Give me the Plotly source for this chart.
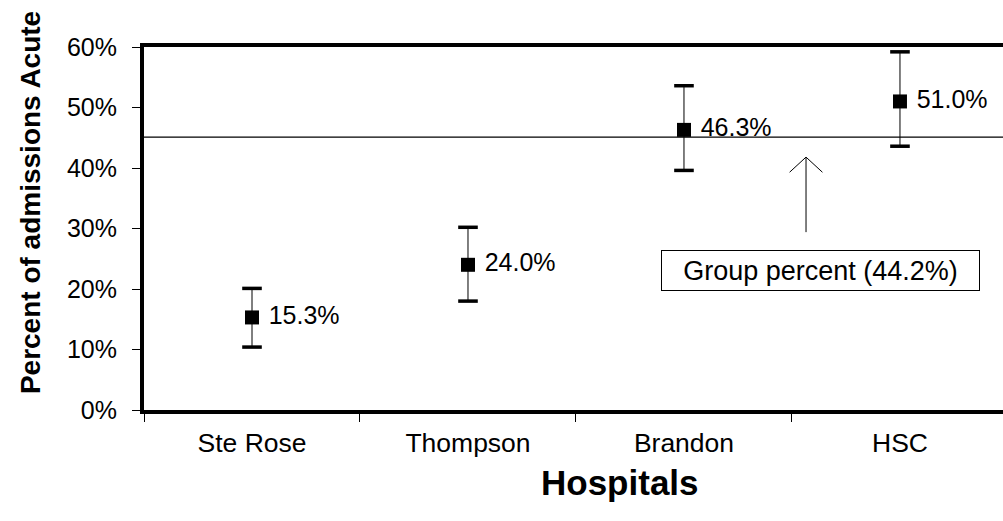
import plotly.graph_objects as go

hospitals = ["Ste Rose", "Thompson", "Brandon", "HSC"]
percent_acute = [15.3, 24.0, 46.3, 51.0]
ci_upper = [20.1, 30.2, 53.6, 59.2]
ci_lower = [10.4, 18.0, 39.6, 43.6]
value_labels = ["15.3%", "24.0%", "46.3%", "51.0%"]
group_line = 45.1
group_label = "Group percent (44.2%)"
y_ticks = [0, 10, 20, 30, 40, 50, 60]
y_tick_labels = ["0%", "10%", "20%", "30%", "40%", "50%", "60%"]

FONT = "Liberation Sans, Arial, sans-serif"

fig = go.Figure()

# error bar stems
fig.add_trace(go.Scatter(
    x=hospitals, y=percent_acute, mode="markers",
    marker=dict(size=1, color="rgba(0,0,0,0)"),
    error_y=dict(type="data", symmetric=False,
                 array=[u - v for u, v in zip(ci_upper, percent_acute)],
                 arrayminus=[v - l for l, v in zip(ci_lower, percent_acute)],
                 color="black", thickness=1, width=0),
    hoverinfo="skip", showlegend=False))

# thick caps
fig.add_trace(go.Scatter(
    x=hospitals + hospitals, y=ci_upper + ci_lower, mode="markers",
    marker=dict(symbol="line-ew", size=14, line=dict(color="black", width=3.5)),
    hoverinfo="skip", showlegend=False))

# square markers with labels
fig.add_trace(go.Scatter(
    x=hospitals, y=percent_acute, mode="markers+text",
    marker=dict(symbol="square", size=14, color="black"),
    text=value_labels, texttemplate=" %{text}", textposition="middle right",
    textfont=dict(family=FONT, size=25, color="black"),
    showlegend=False))

# group percent line
fig.add_shape(type="line", xref="paper", yref="y", x0=0, x1=1,
              y0=group_line, y1=group_line, line=dict(color="black", width=1.2))

# open arrow
ax = 2.565
fig.add_shape(type="path", xref="x", yref="y",
              path=f"M {ax},29.4 L {ax},41.8 M {ax-0.076},39.3 L {ax},41.8 L {ax+0.076},39.3",
              line=dict(color="black", width=1))

fig.add_annotation(x=2.63, y=23.1, xref="x", yref="y", text=group_label,
                   showarrow=False, font=dict(family=FONT, size=27, color="black"),
                   bordercolor="black", borderwidth=1, bgcolor="white",
                   width=315, height=37, borderpad=1)

fig.add_annotation(x=-0.1327, y=0.57, xref="paper", yref="paper",
                   text="<b>Percent of admissions Acute</b>", textangle=-90,
                   showarrow=False, font=dict(family=FONT, size=28, color="black"),
                   xanchor="center", yanchor="middle")

fig.add_annotation(x=0.554, y=-0.201, xref="paper", yref="paper",
                   text="<b>Hospitals</b>", showarrow=False,
                   font=dict(family=FONT, size=35, color="black"),
                   xanchor="center", yanchor="middle")

fig.update_layout(
    width=1003, height=521,
    margin=dict(l=144, r=0, t=47, b=111, autoexpand=False),
    paper_bgcolor="white", plot_bgcolor="white",
    font=dict(family=FONT, color="black"),
    xaxis=dict(type="category", range=[-0.5, 3.477], showgrid=False, zeroline=False,
               showline=True, linecolor="black", linewidth=4, mirror=True,
               ticks="outside", ticklen=8, tickcolor="black", tickwidth=1,
               tickson="boundaries", ticklabelstandoff=6, automargin=False,
               tickfont=dict(family=FONT, size=26.5, color="black")),
    yaxis=dict(range=[0, 60], tickvals=y_ticks, ticktext=y_tick_labels,
               showgrid=False, zeroline=False, automargin=False,
               showline=True, linecolor="black", linewidth=4, mirror=False,
               ticks="outside", ticklen=8, tickcolor="black", tickwidth=1,
               ticklabelstandoff=10,
               tickfont=dict(family=FONT, size=25, color="black")),
)

fig.write_html("out.html", config={"displayModeBar": False},
               post_script="document.body.style.margin='0';document.body.style.overflow='hidden';")
